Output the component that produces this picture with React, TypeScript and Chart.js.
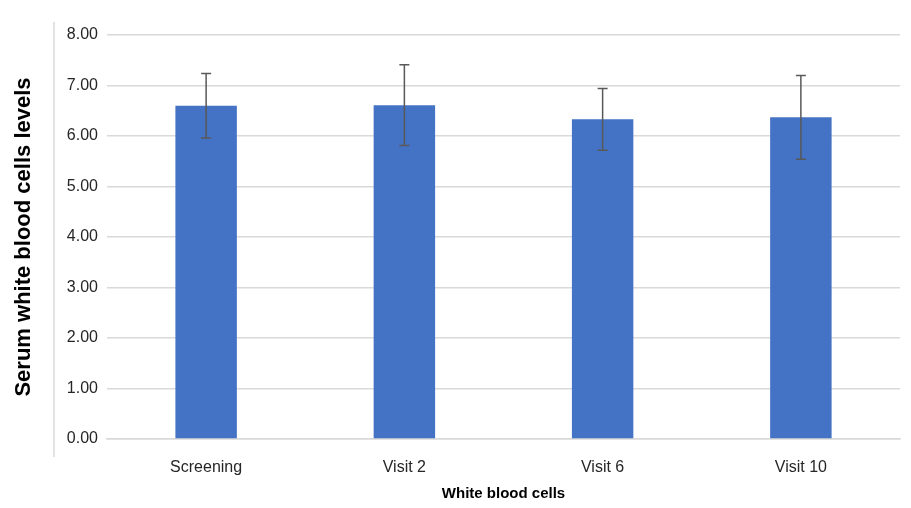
import React, { useEffect, useRef } from "react";
import { Chart, registerables } from "chart.js";

Chart.register(...registerables);

const categories = ["Screening", "Visit 2", "Visit 6", "Visit 10"];
const meanValues = [6.6, 6.61, 6.33, 6.37];
const errorValues = [0.64, 0.8, 0.61, 0.83];
const yTicks = [0, 1, 2, 3, 4, 5, 6, 7, 8];

const FONT = "'Liberation Sans', Arial, sans-serif";

const borderPlugin = {
  id: "leftBorder",
  beforeDraw(chart: any) {
    const ctx = chart.ctx;
    ctx.save();
    ctx.strokeStyle = "#d9d9d9";
    ctx.lineWidth = 1.5;
    ctx.beginPath();
    ctx.moveTo(54, 22);
    ctx.lineTo(54, 457);
    ctx.stroke();
    ctx.restore();
  },
};

const errorBarPlugin = {
  id: "errorBars",
  afterDatasetsDraw(chart: any) {
    const ctx = chart.ctx;
    const meta = chart.getDatasetMeta(0);
    const yScale = chart.scales.y;
    ctx.save();
    ctx.strokeStyle = "#595959";
    ctx.lineWidth = 1.5;
    meta.data.forEach((bar: any, i: number) => {
      const x = bar.x;
      const top = yScale.getPixelForValue(meanValues[i] + errorValues[i]);
      const bottom = yScale.getPixelForValue(meanValues[i] - errorValues[i]);
      ctx.beginPath();
      ctx.moveTo(x, top);
      ctx.lineTo(x, bottom);
      ctx.moveTo(x - 5, top);
      ctx.lineTo(x + 5, top);
      ctx.moveTo(x - 5, bottom);
      ctx.lineTo(x + 5, bottom);
      ctx.stroke();
    });
    ctx.restore();
  },
};

export default function App() {
  const ref = useRef<HTMLCanvasElement | null>(null);

  useEffect(() => {
    if (!ref.current) return;
    const chart = new Chart(ref.current, {
      type: "bar",
      data: {
        labels: categories,
        datasets: [
          {
            data: meanValues,
            backgroundColor: "#4472c4",
            borderWidth: 0,
            barPercentage: 0.31,
            categoryPercentage: 1,
          },
        ],
      },
      options: {
        responsive: false,
        animation: false,
        layout: { padding: { top: 35, right: 11, bottom: 0, left: 0 } },
        plugins: {
          legend: { display: false },
          tooltip: { enabled: false },
        },
        scales: {
          x: {
            grid: { display: false, drawTicks: false },
            border: { display: true, color: "#d9d9d9", width: 1.5 },
            ticks: {
              padding: 19,
              color: "#262626",
              font: { family: FONT, size: 16 },
            },
            title: {
              display: true,
              text: "White blood cells",
              color: "#000000",
              font: { family: FONT, size: 15, weight: "bold" },
              padding: { top: 0, bottom: 5 },
            },
            afterFit(scale: any) {
              scale.height = 69;
            },
          },
          y: {
            min: 0,
            max: 8,
            afterBuildTicks(scale: any) {
              scale.ticks = yTicks.map((v) => ({ value: v }));
            },
            grid: { color: "#d9d9d9", lineWidth: 1.5, drawTicks: false },
            border: { display: false },
            ticks: {
              padding: 9,
              color: "#262626",
              font: { family: FONT, size: 16 },
              callback: (v: any) => Number(v).toFixed(2),
            },
            title: {
              display: true,
              text: "Serum white blood cells levels",
              color: "#000000",
              font: { family: FONT, size: 22, weight: "bold" },
              padding: { top: 11, bottom: 0 },
            },
            afterFit(scale: any) {
              scale.width = 107;
            },
          },
        },
      },
      plugins: [borderPlugin, errorBarPlugin],
    } as any);
    return () => chart.destroy();
  }, []);

  return (
    <div style={{ position: "fixed", left: 0, top: 0, width: 911, height: 508, background: "#ffffff" }}>
      <canvas ref={ref} width={911} height={508} style={{ display: "block" }} />
    </div>
  );
}
